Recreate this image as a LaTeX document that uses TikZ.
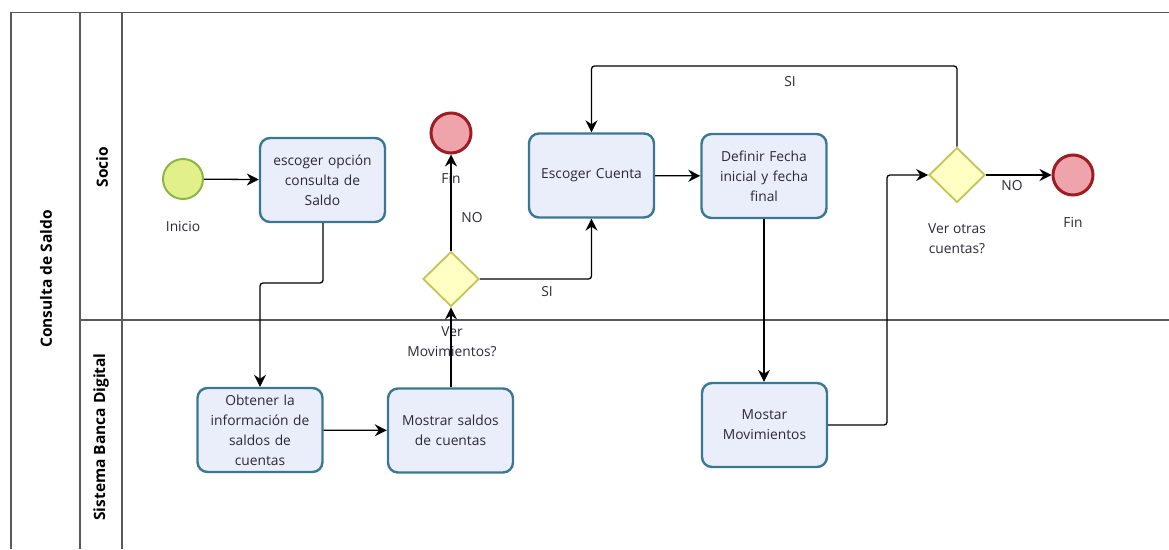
\documentclass[tikz,border=0pt]{standalone}
\usepackage{fontspec}
\setmainfont{Open Sans}
\usetikzlibrary{shapes.geometric,arrows.meta}

\definecolor{poolline}{HTML}{5A5A5A}
\definecolor{taskfill}{HTML}{E9EEFA}
\definecolor{taskline}{HTML}{3A7892}
\definecolor{startfill}{HTML}{E2F08C}
\definecolor{startline}{HTML}{8DB545}
\definecolor{endfill}{HTML}{EFA3AA}
\definecolor{endline}{HTML}{9E1C24}
\definecolor{gwfill}{HTML}{FFFFC4}
\definecolor{gwline}{HTML}{C4C258}
\definecolor{txt}{HTML}{2A2A34}

\tikzset{
  lanerule/.style={draw=poolline, line width=1.1pt},
  lanetitle/.style={rotate=90, font=\bfseries\fontsize{15.5}{18}\selectfont, text=black},
  task/.style={draw=taskline, fill=taskfill, line width=2.4pt, rounded corners=10pt,
    minimum width=125pt, minimum height=84pt, text width=118pt, align=center,
    inner sep=0pt, text=txt, font=\fontsize{13.8}{20}\selectfont},
  startev/.style={circle, draw=startline, fill=startfill, line width=2pt, minimum size=40pt, inner sep=0pt},
  endev/.style={circle, draw=endline, fill=endfill, line width=3pt, minimum size=40pt, inner sep=0pt},
  gateway/.style={diamond, draw=gwline, fill=gwfill, line width=1.8pt, minimum width=56pt,
    minimum height=55pt, inner sep=0pt},
  caption/.style={text=txt, align=center, font=\fontsize{13.8}{20}\selectfont, inner sep=0pt},
  flow/.style={draw=black, line width=1.3pt, rounded corners=3pt,
    -{Stealth[length=12pt, width=12pt, inset=4pt]}},
}

\begin{document}
\begin{tikzpicture}[x=1pt, y=-1pt]
  \useasboundingbox (0,0) rectangle (1169,549);

  % pool and lanes
  \draw[lanerule] (11,549) -- (11,12.5) -- (1169,12.5);
  \draw[lanerule] (80,12.5) -- (80,549);
  \draw[lanerule] (122,12.5) -- (122,549);
  \draw[lanerule] (80,320) -- (1169,320);
  \node[lanetitle] (pool) at (46,279) {Consulta de Saldo};
  \node[lanetitle] (lane1) at (102,167) {Socio};
  \node[lanetitle] (lane2) at (101,437) {Sistema Banca Digital};

  % events and tasks
  \node[startev] (inicio) at (183,179) {};
  \node[caption] (inicioL) at (183,226) {Inicio};
  \node[task] (t1) at (322.5,180) {escoger opción\\consulta de\\Saldo};
  \node[task] (t2) at (260,430) {Obtener la\\información de\\saldos de\\cuentas};
  \node[task] (t3) at (450.5,430.5) {Mostrar saldos\\de cuentas};
  \node[gateway] (g1) at (451,279) {};
  \node[caption] (g1L) at (452,342) {Ver\\Movimientos?};
  \node[endev] (fin1) at (451,133) {};
  \node[caption] (fin1L) at (451,178) {Fin};
  \node[task] (t4) at (591.5,175.5) {Escoger Cuenta};
  \node[task] (t5) at (764,176) {Definir Fecha\\inicial y fecha\\final};
  \node[task] (t6) at (764.5,425) {Mostar\\Movimientos};
  \node[gateway] (g2) at (957,175) {};
  \node[caption] (g2L) at (957,239) {Ver otras\\cuentas?};
  \node[endev] (fin2) at (1073,175) {};
  \node[caption] (fin2L) at (1073,222) {Fin};

  % route corners
  \coordinate (c1a) at (323,283);
  \coordinate (c1b) at (260,283);
  \coordinate (c2) at (591.5,279);
  \coordinate (c3a) at (887,425);
  \coordinate (c3b) at (887,175);
  \coordinate (c4a) at (957,66);
  \coordinate (c4b) at (591.5,66);

  % sequence flows
  \draw[flow] (inicio) -- (t1);
  \draw[flow] (t1.south -| c1a) -- (c1a) -- (c1b) -- (t2.north);
  \draw[flow] (t2) -- (t3);
  \draw[flow] (t3.north -| g1) -- (g1.south);
  \draw[flow] (g1.north) -- (fin1.south);
  \draw[flow] (g1.east) -- (c2) -- (t4.south);
  \draw[flow] (t4) -- (t5);
  \draw[flow] (t5.south) -- (t6.north -| t5.south);
  \draw[flow] (t6.east) -- (c3a) -- (c3b) -- (g2.west);
  \draw[flow] (g2.east) -- (fin2.west);
  \draw[flow] (g2.north) -- (c4a) -- (c4b) -- (t4.north);

  % flow labels
  \node[caption] (no1) at (472,218) {NO};
  \node[caption] (si1) at (547,292) {SI};
  \node[caption] (no2) at (1012,186) {NO};
  \node[caption] (si2) at (790,82) {SI};
\end{tikzpicture}
\end{document}
